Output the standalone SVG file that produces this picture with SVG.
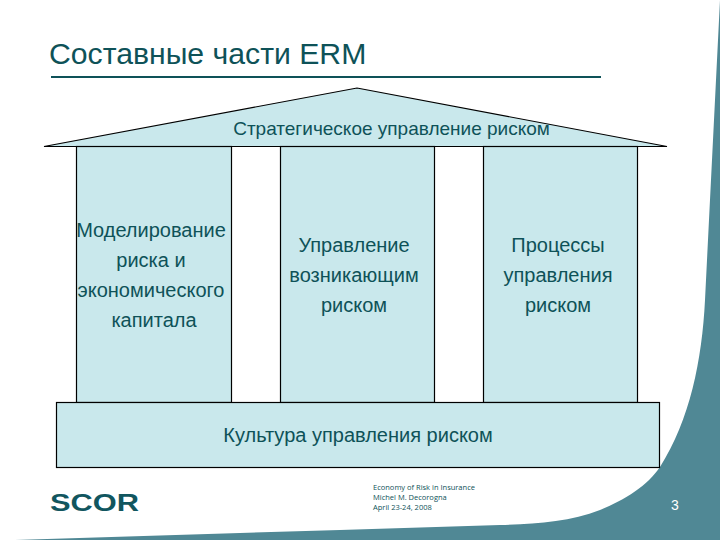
<svg xmlns="http://www.w3.org/2000/svg" width="720" height="540" viewBox="0 0 720 540">
<style>
.box{fill:#c9e8ec;stroke:#000;stroke-width:1.2}
.t{font-family:"Liberation Sans",Arial,sans-serif;font-size:20px;fill:#0e5258;text-anchor:middle}
</style>
<rect width="720" height="540" fill="#fff"/>
<path id="band" fill="#508895" d="M720 0L705 300C702 360 690 420 660 467C648 485 625 500 600 510C570 522 535 524 500 525L340 530L240 533L15 540H720Z"/>
<g id="title"><text x="49" y="64" font-family="'Liberation Sans',Arial,sans-serif" font-size="30.200" fill="#0e5258">Составные части ERM</text><rect x="51" y="76" width="550" height="2" fill="#0e5258"/></g>
<g id="roof"><path d="M44 146.500L357 88L667 146.500Z" fill="#c9e8ec" stroke="#000" stroke-width="1.200"/><text class="t" x="391.500" y="135" style="font-size:19px">Стратегическое управление риском</text></g>
<g id="pillar1"><rect class="box" x="76.500" y="146.500" width="155" height="256"/><text class="t" x="151" y="237">Моделирование</text><text class="t" x="151" y="267">риска и</text><text class="t" x="151" y="297">экономического</text><text class="t" x="154" y="327">капитала</text></g>
<g id="pillar2"><rect class="box" x="280.500" y="146.500" width="154" height="256"/><text class="t" x="354" y="252">Управление</text><text class="t" x="354" y="282">возникающим</text><text class="t" x="354" y="312">риском</text></g>
<g id="pillar3"><rect class="box" x="483.500" y="146.500" width="154" height="256"/><text class="t" x="558" y="252">Процессы</text><text class="t" x="558" y="282">управления</text><text class="t" x="558" y="312">риском</text></g>
<g id="base"><rect class="box" x="56.500" y="402.500" width="603" height="65"/><text class="t" x="358" y="442">Культура управления риском</text></g>
<g id="logo"><text x="50" y="511" font-family="'Liberation Sans',Arial,sans-serif" font-size="24" font-weight="700" fill="#11565f" textLength="89" lengthAdjust="spacingAndGlyphs">SCOR</text></g>
<g id="footer" font-family="'Open Sans',sans-serif" font-size="7.500" fill="#0e5258"><text x="373" y="490">Economy of Risk in Insurance</text><text x="373" y="500">Michel M. Decorogna</text><text x="373" y="510">April 23-24, 2008</text></g>
<text id="page" x="675" y="510" font-family="'Liberation Sans',Arial,sans-serif" font-size="14" fill="#fff" text-anchor="middle">3</text>
</svg>
